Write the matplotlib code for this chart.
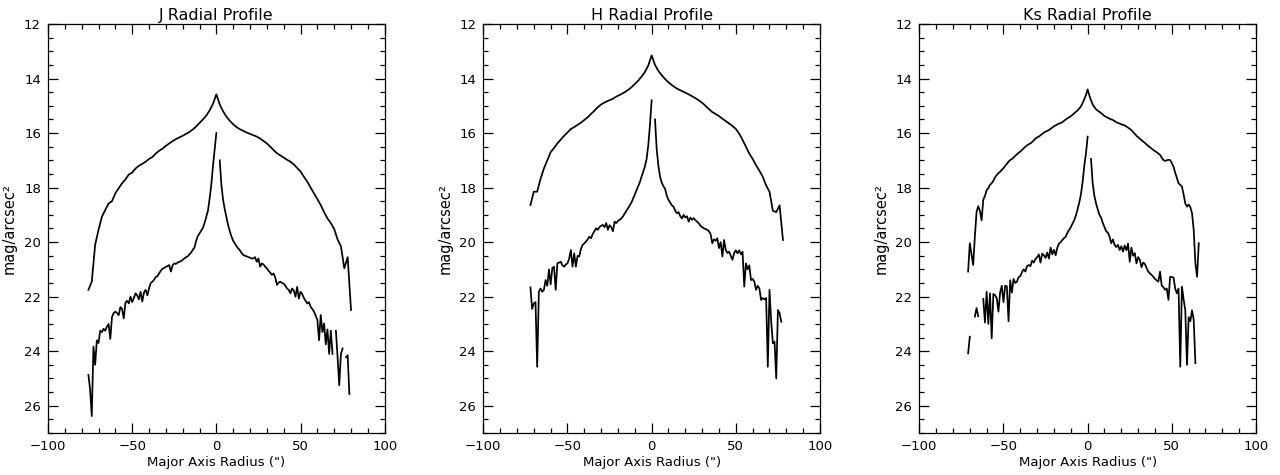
import numpy as np
from matplotlib import pyplot as plt
from matplotlib import ticker

nan = np.nan

# ---- J band ----
j_outer_r = np.arange(-76, 81, 2)
j_outer_mag = [21.75, 21.45, 20.1, 19.55, 19.07, 18.82, 18.58, 18.5, 18.21, 18.02,
               17.84, 17.7, 17.52, 17.45, 17.3, 17.2, 17.13, 17.05, 16.95, 16.88,
               16.75, 16.65, 16.57, 16.47, 16.38, 16.3, 16.22, 16.16, 16.1, 16.03,
               15.96, 15.87, 15.76, 15.63, 15.5, 15.36, 15.17, 14.93, 14.58, 14.95,
               15.2, 15.4, 15.55, 15.68, 15.78, 15.86, 15.92, 15.98, 16.03, 16.08,
               16.13, 16.2, 16.29, 16.38, 16.5, 16.62, 16.74, 16.82, 16.9, 16.98,
               17.05, 17.15, 17.28, 17.41, 17.6, 17.78, 18.0, 18.21, 18.42, 18.64,
               18.9, 19.13, 19.3, 19.52, 19.9, 20.15, 20.96, 20.55, 22.49]

j_inner_r = np.arange(-76, 80, 1)
j_inner_mag = [24.87, 25.4, 26.38, 23.83, 24.5, 23.6, 23.7, 23.25, 23.3, 23.18,
               23.25, 23.1, 23.0, 23.55, 22.75, 22.6, 22.55, 22.6, 22.68, 22.38,
               22.45, 22.8, 22.22, 22.15, 22.25, 22.0, 22.2, 22.05, 21.88, 21.95,
               22.1, 21.82, 22.18, 21.85, 21.75, 21.95, 21.7, 21.5, 21.45, 21.38,
               21.28, 21.25, 21.15, 21.05, 20.97, 20.95, 20.9, 20.88, 20.84, 21.08,
               20.85, 20.78, 20.8, 20.75, 20.72, 20.7, 20.65, 20.6, 20.55, 20.52,
               20.45, 20.38, 20.28, 20.2, 19.95, 19.78, 19.68, 19.58, 19.48, 19.3,
               19.08, 18.85, 18.4, 17.9, 17.2, 16.6, 16.0, nan, 17.0, 17.9,
               18.45, 18.8, 19.1, 19.38, 19.6, 19.8, 19.95, 20.05, 20.15, 20.23,
               20.3, 20.4, 20.47, 20.5, 20.52, 20.55, 20.57, 20.6, 20.6, 20.55,
               20.72, 20.6, 20.9, 20.78, 20.82, 20.9, 20.96, 21.05, 21.12, 21.2,
               21.15, 21.3, 21.57, 21.48, 21.45, 21.5, 21.52, 21.6, 21.7, 21.75,
               21.88, 21.7, 21.78, 22.0, 21.64, 22.07, 21.82, 21.9, 22.05, 22.15,
               22.25, 22.2, 22.37, 22.45, 22.55, 22.7, 22.85, 23.6, 22.67, 23.3,
               22.98, 23.75, 23.2, 24.1, 23.25, 24.1, nan, 23.25, 24.2, 25.25,
               24.1, 23.9, nan, 24.22, 24.15, 25.57]

# ---- H band ----
h_outer_r = np.arange(-72, 79, 2)
h_outer_mag = [18.64, 18.15, 18.15, 17.68, 17.3, 17.0, 16.7, 16.55, 16.38, 16.24,
               16.1, 15.98, 15.85, 15.78, 15.7, 15.62, 15.52, 15.42, 15.3, 15.18,
               15.05, 14.95, 14.88, 14.82, 14.77, 14.7, 14.63, 14.57, 14.5, 14.42,
               14.32, 14.2, 14.08, 13.93, 13.76, 13.52, 13.15, 13.5, 13.72, 13.88,
               14.02, 14.14, 14.24, 14.33, 14.4, 14.46, 14.52, 14.58, 14.65, 14.72,
               14.8, 14.89, 15.0, 15.12, 15.23, 15.3, 15.38, 15.47, 15.56, 15.65,
               15.74, 15.85, 16.02, 16.25, 16.5, 16.75, 16.95, 17.18, 17.38, 17.6,
               17.92, 18.15, 18.85, 18.9, 18.65, 19.92]

h_inner_r = np.arange(-72, 78, 1)
h_inner_mag = [21.66, 22.45, 22.25, 22.2, 24.57, 21.82, 21.7, 21.82, 21.75, 21.39,
               21.6, 21.0, 21.55, 20.95, 20.9, 21.75, 20.78, 20.75, 20.72, 20.85,
               20.9, 20.82, 20.78, 20.6, 20.29, 20.9, 20.41, 20.9, 20.5, 20.53,
               20.25, 20.1, 20.05, 19.98, 19.9, 19.8, 19.86, 19.7, 19.6, 19.49,
               19.55, 19.45, 19.4, 19.37, 19.45, 19.3, 19.55, 19.38, 19.45, 19.6,
               19.25, 19.3, 19.22, 19.18, 19.13, 19.05, 18.95, 18.85, 18.75, 18.65,
               18.55, 18.4, 18.25, 18.1, 17.95, 17.8, 17.6, 17.42, 17.22, 16.95,
               16.45, 15.7, 14.8, nan, 15.5, 16.6, 17.2, 17.6, 17.82, 17.95,
               18.05, 18.3, 18.45, 18.55, 18.65, 18.7, 18.85, 18.94, 18.9, 19.05,
               19.13, 19.0, 19.1, 19.05, 19.25, 19.1, 19.18, 19.12, 19.2, 19.25,
               19.31, 19.4, 19.45, 19.49, 19.52, 19.55, 19.6, 19.7, 20.04, 19.9,
               19.95, 19.86, 20.22, 20.0, 20.53, 19.92, 20.29, 20.4, 20.35, 20.5,
               20.65, 20.4, 20.3, 20.41, 20.3, 20.45, 20.35, 21.63, 20.78, 21.0,
               20.85, 21.39, 21.35, 21.45, 21.75, 21.6, 21.7, 22.12, 22.05, 22.1,
               22.05, 24.57, 21.75, 22.9, 23.71, 23.65, 25.0, 22.49, 22.6, 22.92]

# ---- Ks band ----
ks_outer_r = np.arange(-71, 67, 1)
ks_outer_mag = [21.08, 20.04, 20.45, 20.84, 19.8, 18.9, 18.68, 18.85, 19.2, 18.45,
                18.3, 18.1, 18.02, 17.9, 17.84, 17.75, 17.62, 17.54, 17.47, 17.42,
                17.35, 17.29, 17.2, 17.13, 17.05, 16.99, 16.95, 16.9, 16.83, 16.78,
                16.72, 16.68, 16.62, 16.56, 16.5, 16.45, 16.41, 16.38, 16.33, 16.27,
                16.2, 16.16, 16.13, 16.08, 16.03, 15.98, 15.95, 15.92, 15.89, 15.84,
                15.8, 15.75, 15.72, 15.68, 15.65, 15.63, 15.6, 15.55, 15.5, 15.46,
                15.42, 15.38, 15.33, 15.28, 15.22, 15.17, 15.1, 15.02, 14.9, 14.76,
                14.6, 14.4, 14.62, 14.8, 14.95, 15.05, 15.13, 15.18, 15.22, 15.27,
                15.32, 15.37, 15.41, 15.44, 15.47, 15.5, 15.52, 15.56, 15.6, 15.63,
                15.65, 15.68, 15.7, 15.72, 15.76, 15.8, 15.85, 15.89, 15.96, 16.03,
                16.1, 16.15, 16.21, 16.26, 16.31, 16.36, 16.42, 16.47, 16.52, 16.57,
                16.62, 16.66, 16.7, 16.75, 16.8, 16.9, 16.99, 17.02, 17.0, 16.98,
                16.99, 17.1, 17.23, 17.45, 17.65, 17.84, 17.9, 17.96, 18.25, 18.58,
                18.7, 18.62, 18.72, 18.94, 19.55, 20.78, 21.27, 20.04]

ks_inner_r = np.arange(-71, 65, 1)
ks_inner_mag = [24.08, 23.47, nan, nan, 22.73, 22.42, 22.72, nan, nan, 22.08,
                22.95, 21.82, 23.0, 21.88, 23.53, 21.9, 21.95, 22.05, 22.55, 21.85,
                21.6, 22.2, 21.6, 21.62, 22.9, 21.4, 21.85, 21.35, 21.5, 21.45,
                21.28, 21.25, 21.1, 21.0, 21.08, 20.88, 20.84, 20.88, 20.68, 20.75,
                20.62, 20.55, 20.45, 20.75, 20.42, 20.48, 20.58, 20.38, 20.6, 20.2,
                20.45, 20.28, 20.48, 20.2, 20.05, 20.0, 19.92, 19.85, 19.8, 19.65,
                19.55, 19.45, 19.32, 19.2, 19.02, 18.8, 18.55, 18.25, 17.8, 17.2,
                16.75, 16.13, nan, 16.95, 17.85, 18.3, 18.58, 18.8, 19.0, 19.1,
                19.3, 19.45, 19.6, 19.65, 19.8, 20.04, 19.9, 20.1, 20.18, 20.1,
                20.29, 20.15, 20.35, 20.12, 20.3, 20.05, 20.72, 20.2, 20.5, 20.4,
                20.78, 20.55, 20.65, 20.92, 20.75, 20.8, 20.95, 21.08, 21.15, 21.2,
                21.27, 21.35, 21.4, 21.45, 21.08, 21.6, 21.65, 21.75, 21.7, 22.12,
                21.27, 21.28, 21.3, 21.7, 21.88, 21.7, 24.57, 21.63, 22.1, 22.49,
                24.5, 22.75, 22.9, 22.5, 22.85, 24.44]

titles = ['J Radial Profile', 'H Radial Profile', 'Ks Radial Profile']
profiles = [
    [(j_outer_r, j_outer_mag), (j_inner_r, j_inner_mag)],
    [(h_outer_r, h_outer_mag), (h_inner_r, h_inner_mag)],
    [(ks_outer_r, ks_outer_mag), (ks_inner_r, ks_inner_mag)],
]

plt.rcParams['font.family'] = 'DejaVu Sans'
plt.rcParams['axes.unicode_minus'] = True

fig = plt.figure(figsize=(12.8, 4.75), dpi=100)
lefts = [48 / 1280, 483.3 / 1280, 919.3 / 1280]

for i in range(3):
    ax = fig.add_axes([lefts[i], 42 / 475, 336.7 / 1280, 409 / 475])
    for r, mag in profiles[i]:
        ax.plot(r, mag, color='k', lw=1.25)

    ax.set_xlim(-100, 100)
    ax.set_ylim(27, 12)
    ax.xaxis.set_major_locator(ticker.MultipleLocator(50))
    ax.xaxis.set_minor_locator(ticker.MultipleLocator(10))
    ax.yaxis.set_major_locator(ticker.FixedLocator([12, 14, 16, 18, 20, 22, 24, 26]))
    ax.yaxis.set_minor_locator(ticker.MultipleLocator(0.5))
    ax.tick_params(which='both', direction='in', top=True, right=True,
                   labelsize=9.5, width=0.9)
    ax.tick_params(which='major', length=7, pad=5)
    ax.tick_params(which='minor', length=3.5)
    for s in ax.spines.values():
        s.set_linewidth(0.9)

    ax.set_title(titles[i], fontsize=11.5, pad=3)
    ax.set_xlabel('Major Axis Radius (")', fontsize=9.5, labelpad=2)
    ax.set_ylabel('mag/arcsec²', fontsize=10.5, labelpad=5)

fig.savefig('out.png', dpi=100)
